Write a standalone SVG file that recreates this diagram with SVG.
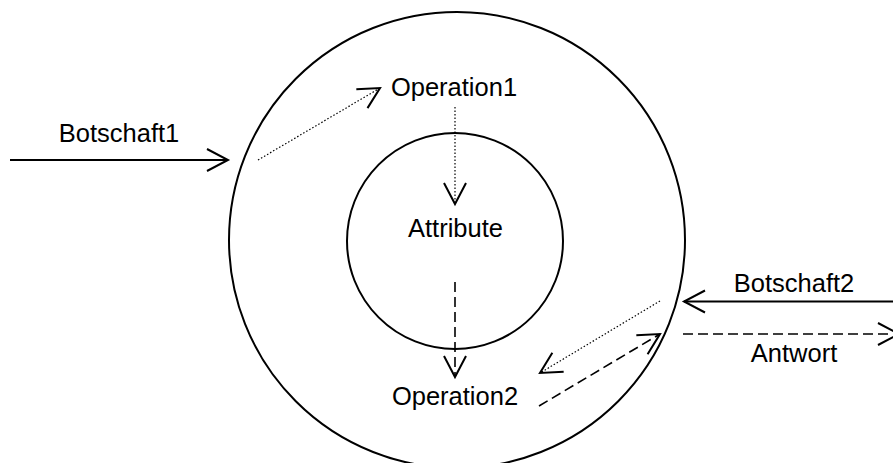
<svg xmlns="http://www.w3.org/2000/svg" width="893" height="463" viewBox="0 0 893 463">
<style>
.shape{fill:none;stroke:#000;stroke-width:2}
.lbl{font-family:"Liberation Sans",Arial,sans-serif;font-size:25.5px;fill:#000}
.solid{fill:none;stroke:#000;stroke-width:1.8}
.dot{fill:none;stroke:#000;stroke-width:1.2;stroke-dasharray:1.5 2}
.dash{fill:none;stroke:#000;stroke-width:1.6;stroke-dasharray:10 5}
</style>
<defs>
<marker id="open" markerUnits="userSpaceOnUse" viewBox="-24 -13 27 26" markerWidth="27" markerHeight="26" refX="0" refY="0" orient="auto" overflow="visible">
<path d="M-21,-11 L0,0 L-21,11" fill="none" stroke="#000" stroke-width="2"/>
</marker>
</defs>
<rect width="893" height="463" fill="#fff"/>
<g id="object">
<circle class="shape" cx="457" cy="240" r="228"/>
</g>
<g id="attribute">
<circle class="shape" cx="455" cy="241" r="108"/>
<text class="lbl" x="455.5" y="237" text-anchor="middle">Attribute</text>
</g>
<g id="operation1">
<text class="lbl" x="454" y="96" text-anchor="middle">Operation1</text>
</g>
<g id="operation2">
<text class="lbl" x="455" y="405" text-anchor="middle">Operation2</text>
</g>
<g id="connectors">
<path class="solid" d="M10,160 L228,160" marker-end="url(#open)"/>
<text class="lbl" x="119" y="141.5" text-anchor="middle">Botschaft1</text>
<path class="dot" d="M258,160 L380,88" marker-end="url(#open)"/>
<path class="dot" d="M455,107 L455,204" marker-end="url(#open)"/>
<path class="dash" d="M455,282 L455,377" marker-end="url(#open)"/>
<path class="dot" d="M660,301 L540,373" marker-end="url(#open)"/>
<path class="dash" d="M539,406 L660,334" marker-end="url(#open)"/>
<path class="solid" d="M893,301.5 L684,301.5" marker-end="url(#open)"/>
<text class="lbl" x="794" y="291.5" text-anchor="middle">Botschaft2</text>
<path class="dash" d="M683,334 L899,334" marker-end="url(#open)"/>
<text class="lbl" x="794" y="362" text-anchor="middle">Antwort</text>
</g>
</svg>
